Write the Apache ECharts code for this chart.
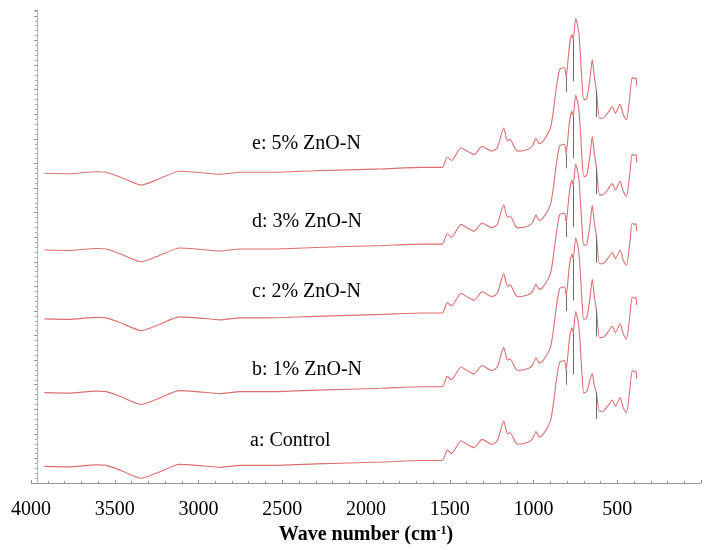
<!DOCTYPE html>
<html lang="en">
<head>
<meta charset="UTF-8">
<title>FTIR spectra</title>
<script src="https://cdn.jsdelivr.net/npm/echarts@6.0.0/dist/echarts.min.js"></script>
<style>html,body{margin:0;padding:0;background:#fff}</style>
</head>
<body>
<div id="chart" style="width:704px;height:550px;"></div>
<script>
// wave numbers (cm-1) shared by all spectra
var wn = [3920, 3778, 3608, 3551, 3466, 3341, 3239, 3114, 3011, 2869,
          2812, 2756, 2585, 2301, 1903, 1676, 1545, 1515, 1489, 1433,
          1392, 1354, 1307, 1250, 1216, 1178, 1155, 1140, 1108, 1089,
          1032, 1006, 985, 966, 947, 899, 881, 862, 843, 814,
          805, 786, 771, 763, 748, 729, 710, 700, 682, 663,
          649, 638, 625, 606, 587, 558, 530, 511, 483, 464,
          445, 426, 411, 398, 388, 384];

// stacked spectra (arbitrary units, offset per sample)
var spec5 = [63.0, 62.9, 63.3, 63.2, 62.2, 60.6, 61.8, 63.4, 63.2, 62.8,
             63.0, 63.2, 63.2, 63.5, 63.9, 64.2, 64.2, 66.3, 65.6, 68.2,
             67.4, 66.8, 68.5, 67.5, 68.2, 72.2, 69.6, 69.9, 67.9, 67.5,
             67.9, 68.6, 70.1, 69.0, 69.3, 72.2, 75.8, 80.8, 84.2, 84.5,
             82.6, 88.8, 91.2, 90.2, 94.5, 91.5, 81.5, 77.9, 78.2, 82.2,
             86.1, 82.9, 79.9, 74.2, 74.2, 75.2, 76.5, 75.2, 77.0, 74.9,
             73.9, 78.2, 82.5, 82.2, 82.4, 80.8];
var spec3 = [47.4, 47.3, 47.7, 47.6, 46.6, 45.0, 46.2, 47.8, 47.6, 47.2,
             47.4, 47.6, 47.6, 47.9, 48.3, 48.6, 48.6, 50.7, 50.0, 52.6,
             51.8, 51.2, 52.9, 51.9, 52.6, 56.6, 54.0, 54.3, 52.3, 51.9,
             52.3, 53.0, 54.5, 53.4, 53.7, 56.6, 60.2, 65.2, 68.6, 68.9,
             67.0, 73.2, 75.6, 74.6, 78.9, 75.9, 65.9, 62.3, 62.6, 66.6,
             70.5, 67.3, 64.3, 58.6, 58.6, 59.6, 60.9, 59.6, 61.4, 59.3,
             58.3, 62.6, 66.9, 66.6, 66.8, 65.2];
var spec2 = [33.4, 33.3, 33.7, 33.6, 32.6, 31.0, 32.2, 33.8, 33.6, 33.2,
             33.4, 33.6, 33.6, 33.9, 34.3, 34.6, 34.6, 36.7, 36.0, 38.6,
             37.8, 37.2, 38.9, 37.9, 38.6, 42.6, 40.0, 40.3, 38.3, 37.9,
             38.3, 39.0, 40.5, 39.4, 39.7, 42.6, 46.2, 51.2, 54.6, 54.9,
             53.0, 59.2, 61.6, 60.6, 64.9, 61.9, 51.9, 48.3, 48.6, 52.6,
             56.5, 53.3, 50.3, 44.6, 44.6, 45.6, 46.9, 45.6, 47.4, 45.3,
             44.3, 48.6, 52.9, 52.6, 52.8, 51.2];
var spec1 = [18.4, 18.3, 18.7, 18.6, 17.6, 16.0, 17.2, 18.8, 18.6, 18.2,
             18.4, 18.6, 18.6, 18.9, 19.3, 19.6, 19.6, 21.7, 21.0, 23.6,
             22.8, 22.2, 23.9, 22.9, 23.6, 27.6, 25.0, 25.3, 23.3, 22.9,
             23.3, 24.0, 25.5, 24.4, 24.7, 27.6, 31.2, 36.2, 39.6, 39.9,
             38.0, 44.2, 46.6, 45.6, 49.9, 46.9, 36.9, 33.3, 33.6, 37.6,
             41.5, 38.3, 35.3, 29.6, 29.6, 30.6, 31.9, 30.6, 32.4, 30.3,
             29.3, 33.6, 37.9, 37.6, 37.8, 36.2];
var specCtrl = [3.4, 3.3, 3.7, 3.6, 2.6, 1.0, 2.2, 3.8, 3.6, 3.2,
                3.4, 3.6, 3.6, 3.9, 4.3, 4.6, 4.6, 6.7, 6.0, 8.6,
                7.8, 7.2, 8.9, 7.9, 8.6, 12.6, 10.0, 10.3, 8.3, 7.9,
                8.3, 9.0, 10.5, 9.4, 9.7, 12.6, 16.2, 21.2, 24.6, 24.9,
                23.0, 29.2, 31.6, 30.6, 34.9, 31.9, 21.9, 18.3, 18.6, 21.0,
                22.3, 20.0, 18.5, 14.6, 14.6, 15.6, 16.9, 15.6, 17.4, 15.3,
                14.3, 18.6, 22.9, 22.6, 22.8, 21.2];

var sampleNames = ['e: 5% ZnO-N', 'd: 3% ZnO-N', 'c: 2% ZnO-N', 'b: 1% ZnO-N', 'a: Control'];
var allSpectra = [spec5, spec3, spec2, spec1, specCtrl];

// peak-pick markers left by the instrument software (index into wn, drop length)
var pickIdx = [40, 43, 52];
var pickDrop = [3, 8.5, 5.5];

// label placement (px)
var labelTops = [134, 212, 282, 360, 431];

var serif = '"Liberation Serif", "Times New Roman", serif';

function toPairs(ys) {
    return wn.map(function (w, i) { return [w, ys[i]]; });
}

function pickLines(ys) {
    return pickIdx.map(function (k, j) {
        return [{ coord: [wn[k], ys[k]] }, { coord: [wn[k], ys[k] - pickDrop[j]] }];
    });
}

var chart = echarts.init(document.getElementById('chart'));
var option = {
    animation: false,
    grid: { left: 31, right: -31, top: 10, bottom: 59 },
    xAxis: {
        type: 'value',
        inverse: true,
        min: 0,
        max: 4000,
        interval: 500,
        axisLine: { onZero: false, lineStyle: { color: '#9a9a9a', width: 1 } },
        axisTick: { inside: true, length: 3, lineStyle: { color: '#888' } },
        minorTick: { show: true, splitNumber: 5, length: 2, lineStyle: { color: '#999' } },
        splitLine: { show: false },
        axisLabel: {
            margin: 17,
            fontFamily: serif,
            fontSize: 20,
            color: '#000',
            formatter: function (v) { return v === 0 ? '' : String(v); }
        },
        name: '{t|Wave number (cm}{s|-1}{t|)}',
        nameLocation: 'middle',
        nameGap: 40,
        nameTextStyle: {
            rich: {
                t: { fontFamily: serif, fontWeight: 'bold', fontSize: 20, color: '#000' },
                s: { fontFamily: serif, fontWeight: 'bold', fontSize: 12, color: '#000', verticalAlign: 'top' }
            }
        }
    },
    yAxis: {
        type: 'value',
        position: 'left',
        min: 0,
        max: 96.2,
        interval: 5,
        offset: -6,
        axisLine: { show: true, onZero: false, lineStyle: { color: '#b0b0b0' } },
        axisTick: { show: true, length: 3, lineStyle: { color: '#999' } },
        minorTick: { show: true, splitNumber: 5, length: 2, lineStyle: { color: '#aaa' } },
        axisLabel: { show: false },
        splitLine: { show: false }
    },
    series: allSpectra.map(function (ys, i) {
        return {
            name: sampleNames[i],
            type: 'line',
            data: toPairs(ys),
            showSymbol: false,
            symbol: 'none',
            smooth: 0.2,
            lineStyle: { color: '#de6f6f', width: 1.1 },
            markLine: {
                silent: true,
                symbol: 'none',
                label: { show: false },
                lineStyle: { color: '#6b6b6b', width: 1, type: 'solid' },
                data: pickLines(ys)
            }
        };
    }),
    graphic: sampleNames.map(function (n, i) {
        return {
            type: 'text',
            left: i === 4 ? 250 : 252,
            top: labelTops[i],
            style: { text: n, font: '20px ' + serif, fill: '#000' }
        };
    })
};
chart.setOption(option);
</script>
</body>
</html>
